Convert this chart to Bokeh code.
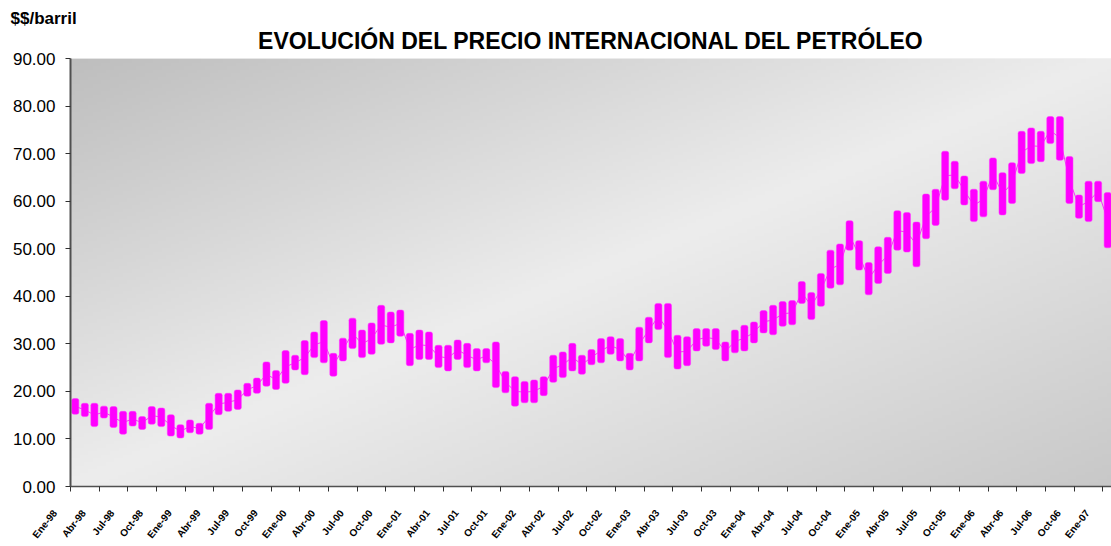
import numpy as np
from bokeh.plotting import figure
from bokeh.models import (Range1d, FixedTicker, Title, ColumnDataSource,
                          PrintfTickFormatter, CustomJSTickFormatter)
from bokeh.embed import file_html
from bokeh.resources import INLINE

# ---------------- data (monthly, Ene-98 .. Ene-07) ----------------
precio_alto = [18.5, 17.5, 17.5, 16.9, 16.8, 15.8, 15.8, 14.7, 16.8, 16.5, 15.1, 13.0,
               14.0, 13.3, 17.5, 19.6, 19.6, 20.3, 21.7, 22.8, 26.2, 24.4, 28.6, 27.6,
               30.7, 32.5, 34.9, 28.0, 31.2, 35.4, 32.9, 34.4, 38.1, 36.7, 37.1, 32.2,
               32.9, 32.5, 29.7, 29.7, 30.8, 30.1, 29.0, 29.0, 30.4, 24.2, 23.1, 22.1,
               22.4, 23.1, 27.6, 28.3, 30.1, 27.6, 28.8, 31.1, 31.5, 31.1, 28.0, 33.5,
               35.6, 38.5, 38.5, 31.8, 31.5, 33.2, 33.2, 33.2, 30.4, 32.9, 33.9, 34.6,
               37.0, 38.1, 38.9, 39.1, 43.1, 40.8, 44.8, 49.7, 51.0, 55.9, 51.7, 47.1,
               50.4, 52.4, 58.0, 57.6, 55.6, 61.5, 62.5, 70.5, 68.4, 65.3, 62.5, 64.2,
               69.1, 66.0, 68.1, 74.7, 75.4, 74.7, 77.8, 77.8, 69.4, 61.3, 64.2, 64.2,
               61.8]
precio_bajo = [15.2, 14.7, 12.6, 14.4, 12.4, 11.0, 12.7, 12.0, 13.1, 12.6, 10.6, 10.2,
               11.3, 11.0, 12.0, 15.1, 15.8, 16.2, 19.0, 19.6, 21.1, 20.4, 21.7, 24.5,
               23.5, 27.1, 26.0, 23.2, 26.4, 29.0, 27.1, 27.8, 29.9, 30.2, 31.6, 25.4,
               26.7, 26.7, 25.0, 24.3, 26.7, 25.0, 24.3, 26.0, 20.8, 19.7, 16.9, 17.6,
               17.6, 19.1, 21.9, 22.9, 24.3, 23.6, 25.6, 26.0, 27.8, 26.4, 24.5, 26.4,
               30.2, 33.0, 27.1, 24.7, 25.4, 28.5, 29.5, 28.8, 26.4, 28.1, 28.5, 30.2,
               32.3, 31.9, 33.7, 34.0, 38.5, 35.1, 37.9, 41.7, 42.4, 49.7, 45.5, 40.3,
               42.7, 44.8, 49.7, 49.3, 46.2, 52.1, 54.9, 60.2, 62.6, 59.2, 55.7, 56.7,
               62.4, 57.1, 59.5, 65.8, 67.9, 68.3, 72.1, 68.6, 59.5, 56.4, 55.7, 59.9,
               50.2]
etiquetas_x = ["Ene-98", "Abr-98", "Jul-98", "Oct-98", "Ene-99", "Abr-99", "Jul-99", "Oct-99",
               "Ene-00", "Abr-00", "Jul-00", "Oct-00", "Ene-01", "Abr-01", "Jul-01", "Oct-01",
               "Ene-02", "Abr-02", "Jul-02", "Oct-02", "Ene-03", "Abr-03", "Jul-03", "Oct-03",
               "Ene-04", "Abr-04", "Jul-04", "Oct-04", "Ene-05", "Abr-05", "Jul-05", "Oct-05",
               "Ene-06", "Abr-06", "Jul-06", "Oct-06", "Ene-07"]
ticks_y = [0, 10, 20, 30, 40, 50, 60, 70, 80, 90]
titulo = "EVOLUCIÓN DEL PRECIO INTERNACIONAL DEL PETRÓLEO"
unidad = "$$/barril"

n = len(precio_alto)
mes = np.arange(n) + 0.5
mid = [(a + b) / 2 for a, b in zip(precio_alto, precio_bajo)]
src = ColumnDataSource(dict(x=mes, top=precio_alto, bottom=precio_bajo, mid=mid))

XMAX = 108.9
YMAX = 90

p = figure(width=1111, height=546, output_backend="svg", toolbar_location=None,
           x_range=Range1d(0, XMAX), y_range=Range1d(0, YMAX),
           min_border_left=70, min_border_right=0, min_border_top=58,
           min_border_bottom=56)
p.grid.visible = False
p.outline_line_color = None
p.background_fill_color = "#e8e8e8"
p.border_fill_color = "white"

# titles: p.title is the outer one (unit), the added Title sits next to the frame
p.title.text = unidad
p.title.align = "left"
p.title.offset = -60
p.title.standoff = -14
p.title.text_font = "Liberation Sans"
p.title.text_font_style = "bold"
p.title.text_font_size = "17px"
p.title.text_color = "black"
p.add_layout(Title(text=titulo, align="center", offset=-26, standoff=10,
                   text_line_height=0.1,
                   text_font="Liberation Sans", text_font_style="bold",
                   text_font_size="23px", text_color="black"), "above")

# gradient background of the plot area
H, W = 120, 240
rows = (np.arange(H) + 0.5) / H
cols = (np.arange(W) + 0.5) / W
vtop = 1 - rows[:, None]
tt = (cols[None, :] + vtop) / 2
g = np.interp(tt, [0, 0.5, 1], [190, 237, 200]).astype(np.uint8)
img = np.empty((H, W), dtype=np.uint32)
view = img.view(dtype=np.uint8).reshape((H, W, 4))
view[:, :, 0] = g
view[:, :, 1] = g
view[:, :, 2] = g
view[:, :, 3] = 255
p.image_rgba(image=[img], x=0, y=0, dw=XMAX, dh=YMAX)

# connecting thin line and bars
p.line("x", "mid", source=src, line_color="#FF00FF", line_width=1, line_alpha=0.8)
p.vbar(x="x", top="top", bottom="bottom", width=0.74, source=src,
       fill_color="#FF00FF", line_color="#FF33FF", line_width=0.5, border_radius=2)

# axes
p.yaxis.ticker = FixedTicker(ticks=ticks_y)
p.yaxis.formatter = PrintfTickFormatter(format="%.2f")
p.yaxis.major_label_text_font = "Liberation Sans"
p.yaxis.major_label_text_font_size = "17px"
p.yaxis.major_label_text_color = "black"
p.yaxis.major_label_standoff = 10
p.yaxis.major_tick_out = 5
p.yaxis.major_tick_in = 0
p.yaxis.minor_tick_line_color = None
p.yaxis.axis_line_color = "#505050"
p.yaxis.axis_line_width = 2
p.yaxis.major_tick_line_color = "#303030"

pad = "\u00a0" * 9
p.xaxis.ticker = FixedTicker(ticks=list(range(0, 109, 3)))
p.xaxis.formatter = CustomJSTickFormatter(
    args=dict(labels=etiquetas_x, pad=pad),
    code="const i = Math.round(tick / 3); return (labels[i] || '') + pad;")
p.xaxis.major_label_orientation = 0.9
p.xaxis.major_label_text_font = "Liberation Sans"
p.xaxis.major_label_text_font_style = "bold"
p.xaxis.major_label_text_font_size = "10px"
p.xaxis.major_label_text_color = "black"
p.xaxis.major_label_standoff = 0
p.xaxis.major_tick_out = 5
p.xaxis.major_tick_in = 0
p.xaxis.minor_tick_line_color = None
p.xaxis.axis_line_color = "#505050"
p.xaxis.axis_line_width = 1.5
p.xaxis.major_tick_line_color = "#303030"

open("out.html", "w").write(file_html(p, INLINE))
